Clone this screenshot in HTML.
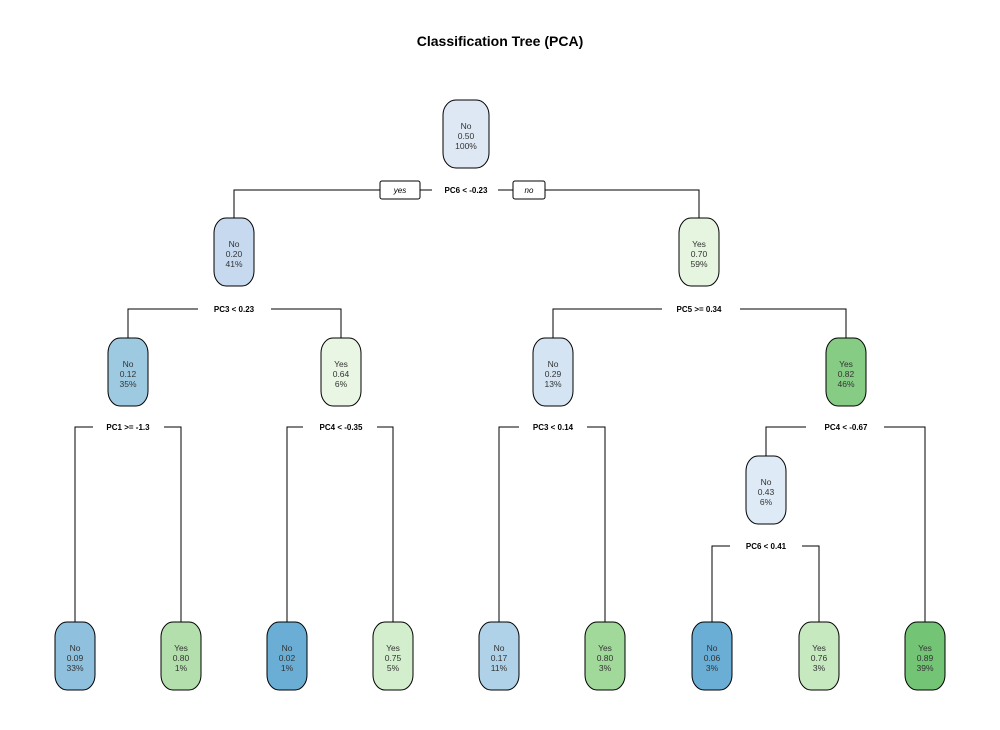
<!DOCTYPE html>
<html><head><meta charset="utf-8"><style>
html,body{margin:0;padding:0;background:#fff;}
svg{display:block;font-family:"Liberation Sans",Arial,sans-serif;}
.n{stroke:#000;stroke-width:1;}
.t{font-size:8.5px;fill:#333;text-anchor:middle;}
.s{font-size:8px;font-weight:bold;fill:#000;text-anchor:middle;}
.l{stroke:#000;stroke-width:1;fill:none;}
</style></head><body>
<svg width="1000" height="730" viewBox="0 0 1000 730">
<rect width="1000" height="730" fill="#fff"/>
<text x="500" y="46" font-size="14" font-weight="bold" text-anchor="middle" fill="#000">Classification Tree (PCA)</text>

<!-- connectors -->
<g class="l">
<polyline points="234,218 234,190 380,190"/>
<line x1="420" y1="190" x2="432" y2="190"/>
<line x1="498" y1="190" x2="513" y2="190"/>
<polyline points="545,190 699,190 699,218"/>

<polyline points="128,338 128,309 198,309"/>
<polyline points="271,309 341,309 341,338"/>
<polyline points="553,338 553,309 662,309"/>
<polyline points="740,309 846,309 846,338"/>

<polyline points="75,622 75,427 93,427"/>
<polyline points="164,427 181,427 181,622"/>
<polyline points="287,622 287,427 303,427"/>
<polyline points="377,427 393,427 393,622"/>
<polyline points="499,622 499,427 519,427"/>
<polyline points="587,427 605,427 605,622"/>
<polyline points="766,456 766,427 806,427"/>
<polyline points="884,427 925,427 925,622"/>
<polyline points="712,622 712,546 730,546"/>
<polyline points="802,546 819,546 819,622"/>
</g>
<rect x="380" y="181" width="40" height="18" rx="2" fill="#fff" stroke="#000"/>
<text x="400" y="193" font-size="8" font-style="italic" text-anchor="middle">yes</text>
<rect x="513" y="181" width="32" height="18" rx="2" fill="#fff" stroke="#000"/>
<text x="529" y="193" font-size="8" font-style="italic" text-anchor="middle">no</text>

<text class="s" x="466" y="193">PC6 &lt; -0.23</text>
<text class="s" x="234" y="312">PC3 &lt; 0.23</text>
<text class="s" x="699" y="312">PC5 &gt;= 0.34</text>
<text class="s" x="128" y="430">PC1 &gt;= -1.3</text>
<text class="s" x="341" y="430">PC4 &lt; -0.35</text>
<text class="s" x="553" y="430">PC3 &lt; 0.14</text>
<text class="s" x="846" y="430">PC4 &lt; -0.67</text>
<text class="s" x="766" y="549">PC6 &lt; 0.41</text>

<!-- nodes -->
<g id="nodes">
<rect class="n" x="443" y="100" width="46" height="68" rx="13" ry="15" fill="#dde8f4"/>
<text class="t" x="466" y="129">No</text><text class="t" x="466" y="139">0.50</text><text class="t" x="466" y="149" fill="#6b2b20">100%</text>

<rect class="n" x="214" y="218" width="40" height="68" rx="12" ry="15" fill="#c6d9ee"/>
<text class="t" x="234" y="247">No</text><text class="t" x="234" y="257">0.20</text><text class="t" x="234" y="267">41%</text>
<rect class="n" x="679" y="218" width="40" height="68" rx="12" ry="15" fill="#e5f5e0"/>
<text class="t" x="699" y="247">Yes</text><text class="t" x="699" y="257">0.70</text><text class="t" x="699" y="267">59%</text>

<rect class="n" x="108" y="338" width="40" height="68" rx="12" ry="15" fill="#9ecae1"/>
<text class="t" x="128" y="367">No</text><text class="t" x="128" y="377">0.12</text><text class="t" x="128" y="387">35%</text>
<rect class="n" x="321" y="338" width="40" height="68" rx="12" ry="15" fill="#e8f6e3"/>
<text class="t" x="341" y="367">Yes</text><text class="t" x="341" y="377">0.64</text><text class="t" x="341" y="387">6%</text>
<rect class="n" x="533" y="338" width="40" height="68" rx="12" ry="15" fill="#d4e4f3"/>
<text class="t" x="553" y="367">No</text><text class="t" x="553" y="377">0.29</text><text class="t" x="553" y="387">13%</text>
<rect class="n" x="826" y="338" width="40" height="68" rx="12" ry="15" fill="#86cc85"/>
<text class="t" x="846" y="367">Yes</text><text class="t" x="846" y="377">0.82</text><text class="t" x="846" y="387">46%</text>

<rect class="n" x="746" y="456" width="40" height="68" rx="12" ry="15" fill="#deebf7"/>
<text class="t" x="766" y="485">No</text><text class="t" x="766" y="495">0.43</text><text class="t" x="766" y="505">6%</text>

<rect class="n" x="55" y="622" width="40" height="68" rx="12" ry="15" fill="#8fc1de"/>
<text class="t" x="75" y="651">No</text><text class="t" x="75" y="661">0.09</text><text class="t" x="75" y="671">33%</text>
<rect class="n" x="161" y="622" width="40" height="68" rx="12" ry="15" fill="#b2dfab"/>
<text class="t" x="181" y="651">Yes</text><text class="t" x="181" y="661">0.80</text><text class="t" x="181" y="671">1%</text>
<rect class="n" x="267" y="622" width="40" height="68" rx="12" ry="15" fill="#6aaed6"/>
<text class="t" x="287" y="651">No</text><text class="t" x="287" y="661">0.02</text><text class="t" x="287" y="671">1%</text>
<rect class="n" x="373" y="622" width="40" height="68" rx="12" ry="15" fill="#d3eecd"/>
<text class="t" x="393" y="651">Yes</text><text class="t" x="393" y="661">0.75</text><text class="t" x="393" y="671">5%</text>
<rect class="n" x="479" y="622" width="40" height="68" rx="12" ry="15" fill="#b0d2e8"/>
<text class="t" x="499" y="651">No</text><text class="t" x="499" y="661">0.17</text><text class="t" x="499" y="671">11%</text>
<rect class="n" x="585" y="622" width="40" height="68" rx="12" ry="15" fill="#a1d99b"/>
<text class="t" x="605" y="651">Yes</text><text class="t" x="605" y="661">0.80</text><text class="t" x="605" y="671">3%</text>
<rect class="n" x="692" y="622" width="40" height="68" rx="12" ry="15" fill="#6aaed6"/>
<text class="t" x="712" y="651">No</text><text class="t" x="712" y="661">0.06</text><text class="t" x="712" y="671">3%</text>
<rect class="n" x="799" y="622" width="40" height="68" rx="12" ry="15" fill="#c7e9c0"/>
<text class="t" x="819" y="651">Yes</text><text class="t" x="819" y="661">0.76</text><text class="t" x="819" y="671">3%</text>
<rect class="n" x="905" y="622" width="40" height="68" rx="12" ry="15" fill="#74c476"/>
<text class="t" x="925" y="651">Yes</text><text class="t" x="925" y="661">0.89</text><text class="t" x="925" y="671">39%</text>
</g>
</svg>
</body></html>
